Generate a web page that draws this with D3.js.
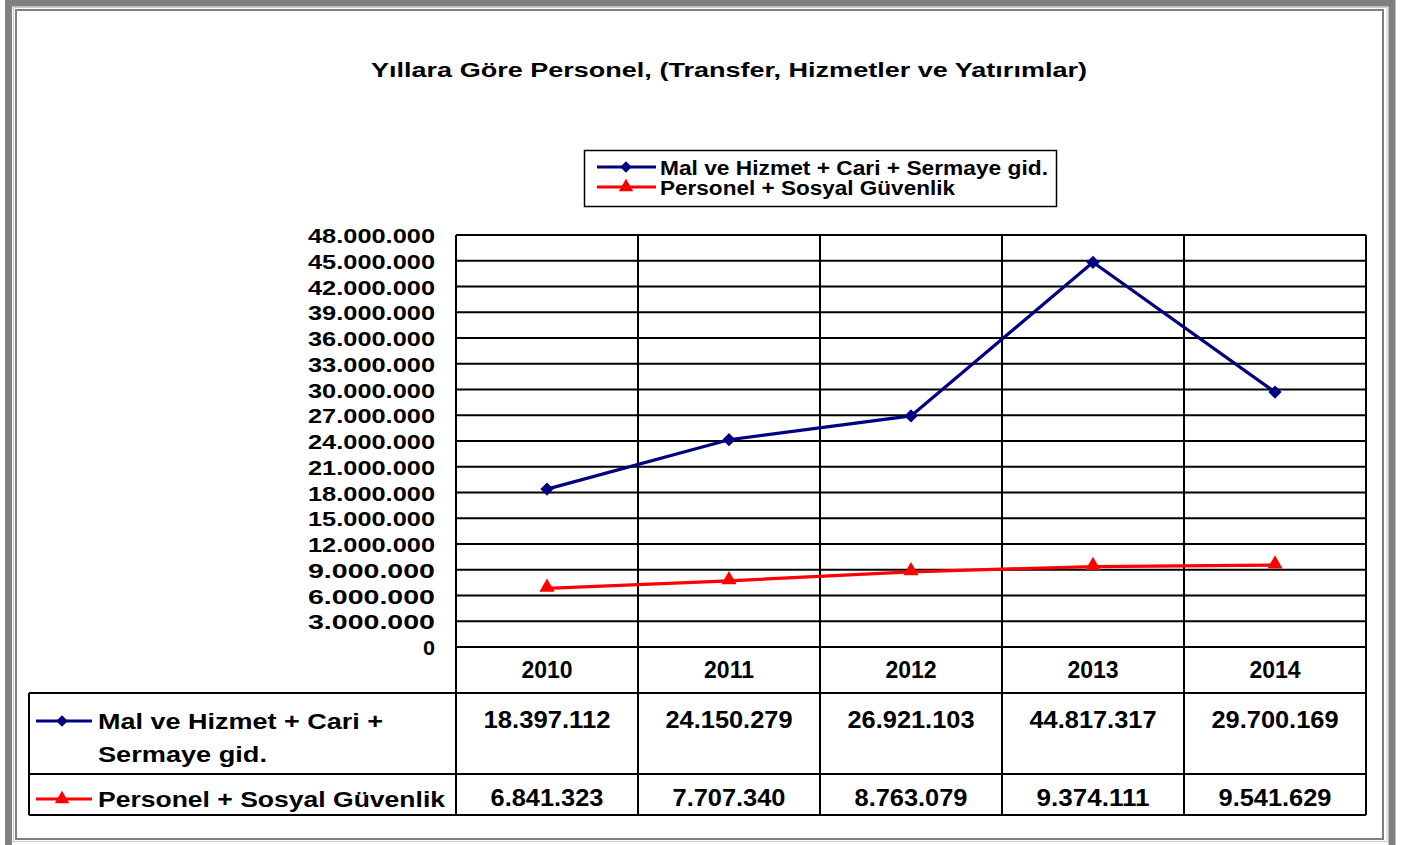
<!DOCTYPE html>
<html>
<head>
<meta charset="utf-8">
<script src="https://cdn.jsdelivr.net/npm/d3@7"></script>
<style>
  body { margin: 0; background: #fff; }
  svg text { font-family: "Liberation Sans", Arial, sans-serif; font-weight: bold; fill: #000; }
</style>
</head>
<body>
<svg id="chart" width="1403" height="845"></svg>
<script>
const years = ["2010", "2011", "2012", "2013", "2014"]
const malHizmet = [18397112, 24150279, 26921103, 44817317, 29700169]
const personel = [6841323, 7707340, 8763079, 9374111, 9541629]
const seriesNames = ["Mal ve Hizmet + Cari + Sermaye gid.", "Personel + Sosyal Güvenlik"]
const yTicks = d3.range(0, 48000001, 3000000)
const titleText = "Yıllara Göre Personel, (Transfer, Hizmetler ve Yatırımlar)"

const trLocale = d3.formatLocale({decimal: ",", thousands: ".", grouping: [3], currency: ["", ""]})
const fmt = trLocale.format(",d")

const svg = d3.select("#chart")
const plot = {left: 456, right: 1366, top: 235, bottom: 647}

// frame
svg.append("rect").attr("x", 8.5).attr("y", 3).attr("width", 1383.5).attr("height", 846)
  .attr("fill", "none").attr("stroke", "#808080").attr("stroke-width", 7)
svg.append("rect").attr("x", 13.5).attr("y", 7.5).attr("width", 1373.5).attr("height", 834)
  .attr("fill", "none").attr("stroke", "#c8c8c8").attr("stroke-width", 1)
svg.append("rect").attr("x", 16).attr("y", 10).attr("width", 1367).attr("height", 829)
  .attr("fill", "none").attr("stroke", "#808080").attr("stroke-width", 2)

svg.append("text").attr("x", 729).attr("y", 77).attr("text-anchor", "middle")
  .style("font-size", "19.5px").attr("textLength", 716).attr("lengthAdjust", "spacingAndGlyphs")
  .text(titleText)

const x = d3.scaleBand().domain(years).range([plot.left, plot.right])
const y = d3.scaleLinear().domain([0, 48000000]).range([plot.bottom, plot.top])
const cx = d => x(d) + x.bandwidth() / 2

// horizontal grid
svg.append("g").selectAll("line").data(yTicks).join("line")
  .attr("x1", plot.left).attr("x2", plot.right)
  .attr("y1", d => y(d)).attr("y2", d => y(d))
  .attr("stroke", "#000").attr("stroke-width", 2)

// y axis labels
const yAxis = svg.append("g").attr("transform", "translate(" + plot.left + ",0)")
  .call(d3.axisLeft(y).tickValues(yTicks).tickFormat(fmt).tickSize(0).tickPadding(21))
yAxis.select(".domain").remove()
yAxis.selectAll("text")
  .style("font-size", "21px").style("font-family", "Liberation Sans, Arial, sans-serif")
  .attr("dy", "0.36em")
  .attr("textLength", d => d === 0 ? 12 : 127).attr("lengthAdjust", "spacingAndGlyphs")

// vertical lines (plot + year row)
const vx = years.map(d => x(d)).concat([plot.right])
svg.append("g").selectAll("line").data(vx).join("line")
  .attr("x1", d => d).attr("x2", d => d)
  .attr("y1", plot.top).attr("y2", 815)
  .attr("stroke", "#000").attr("stroke-width", 2)

// series lines
const lineGen = (vals) => d3.line().x((d, i) => cx(years[i])).y(d => y(d))(vals)
svg.append("path").attr("d", lineGen(malHizmet)).attr("fill", "none")
  .attr("stroke", "#000080").attr("stroke-width", 3.2)
svg.append("path").attr("d", lineGen(personel)).attr("fill", "none")
  .attr("stroke", "#ff0000").attr("stroke-width", 3.2)

const diamond = d3.symbol().type(d3.symbolSquare).size(88)
const tri = d3.symbol().type(d3.symbolTriangle).size(100)
svg.append("g").selectAll("path").data(malHizmet).join("path")
  .attr("transform", (d, i) => "translate(" + cx(years[i]) + "," + y(d) + ") rotate(45)")
  .attr("d", diamond).attr("fill", "#000080")
svg.append("g").selectAll("path").data(personel).join("path")
  .attr("transform", (d, i) => "translate(" + cx(years[i]) + "," + (y(d) - 1) + ")")
  .attr("d", tri).attr("fill", "#ff0000")

// legend
svg.append("rect").attr("x", 584.5).attr("y", 150.5).attr("width", 472).attr("height", 56)
  .attr("fill", "#fff").attr("stroke", "#000").attr("stroke-width", 1.5)
const legColors = ["#000080", "#ff0000"]
const legWidths = [388, 295]
const smallDiamond = d3.symbol().type(d3.symbolSquare).size(66)
const smallTri = d3.symbol().type(d3.symbolTriangle).size(90)
seriesNames.forEach((name, i) => {
  const ly = 167 + i * 20
  svg.append("line").attr("x1", 597).attr("x2", 656).attr("y1", ly).attr("y2", ly)
    .attr("stroke", legColors[i]).attr("stroke-width", 3)
  svg.append("path").attr("d", i === 0 ? smallDiamond() : smallTri())
    .attr("transform", "translate(626," + ly + ")" + (i === 0 ? " rotate(45)" : ""))
    .attr("fill", legColors[i])
  svg.append("text").attr("x", 660).attr("y", ly + 8).style("font-size", "19.5px")
    .attr("textLength", legWidths[i]).attr("lengthAdjust", "spacingAndGlyphs").text(name)
})

// data table
svg.append("g").selectAll("text").data(years).join("text")
  .attr("x", d => cx(d)).attr("y", 678).attr("text-anchor", "middle")
  .style("font-size", "23px").text(d => d)

const rowLines = [693, 774, 815]
svg.append("g").selectAll("line").data(rowLines).join("line")
  .attr("x1", 29).attr("x2", plot.right).attr("y1", d => d).attr("y2", d => d)
  .attr("stroke", "#000").attr("stroke-width", 2)
svg.append("line").attr("x1", 29).attr("x2", 29).attr("y1", 693).attr("y2", 815)
  .attr("stroke", "#000").attr("stroke-width", 2)

const tableRows = [
  {vals: malHizmet, lines: ["Mal ve Hizmet + Cari +", "Sermaye gid."], widths: [285, 169], base: 729, markY: 721},
  {vals: personel, lines: ["Personel + Sosyal Güvenlik"], widths: [347], base: 807, markY: 799}
]
tableRows.forEach((r, i) => {
  svg.append("line").attr("x1", 36).attr("x2", 92).attr("y1", r.markY).attr("y2", r.markY)
    .attr("stroke", legColors[i]).attr("stroke-width", 3)
  svg.append("path").attr("d", i === 0 ? smallDiamond() : smallTri())
    .attr("transform", "translate(62," + r.markY + ")" + (i === 0 ? " rotate(45)" : ""))
    .attr("fill", legColors[i])
  r.lines.forEach((t, j) => {
    svg.append("text").attr("x", 98).attr("y", r.base + j * 33).style("font-size", "22px")
      .attr("textLength", r.widths[j]).attr("lengthAdjust", "spacingAndGlyphs").text(t)
  })
  svg.append("g").selectAll("text").data(r.vals).join("text")
    .attr("x", (d, k) => cx(years[k])).attr("y", r.base - 1).attr("text-anchor", "middle")
    .style("font-size", "23px")
    .attr("textLength", d => d >= 10000000 ? 127 : 113).attr("lengthAdjust", "spacingAndGlyphs")
    .text(d => fmt(d))
})
</script>
</body>
</html>
